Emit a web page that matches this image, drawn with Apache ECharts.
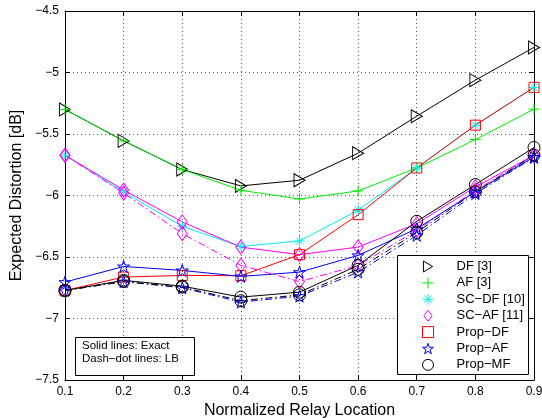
<!DOCTYPE html>
<html><head><meta charset="utf-8">
<script src="https://cdn.jsdelivr.net/npm/echarts@6/dist/echarts.min.js"></script>
<style>html,body{margin:0;padding:0;background:#fff}#c{width:542px;height:418px}</style>
</head><body><div id="c"></div>
<script>
const xs = [0.1, 0.2, 0.3, 0.4, 0.5, 0.6, 0.7, 0.8, 0.9];
const yTicks = [-7.5, -7, -6.5, -6, -5.5, -5, -4.5];
const df      = [-5.30, -5.556, -5.789, -5.922, -5.876, -5.656, -5.355, -5.062, -4.796];
const af      = [-5.30, -5.556, -5.789, -5.958, -6.028, -5.963, -5.776, -5.545, -5.298];
const scdf    = [-5.673, -5.971, -6.251, -6.414, -6.370, -6.120, -5.776, -5.428, -5.121];
const scaf    = [-5.673, -5.955, -6.215, -6.420, -6.481, -6.419, -6.229, -5.930, -5.673];
const scafLB  = [-5.673, -5.980, -6.310, -6.568, -6.700, -6.568, -6.283, -5.958, -5.673];
const propdf  = [-6.772, -6.663, -6.650, -6.652, -6.481, -6.156, -5.776, -5.428, -5.121];
const propaf  = [-6.704, -6.577, -6.609, -6.658, -6.623, -6.487, -6.270, -5.970, -5.686];
const propafLB= [-6.772, -6.700, -6.750, -6.867, -6.818, -6.623, -6.324, -5.985, -5.690];
const propmf  = [-6.772, -6.690, -6.737, -6.826, -6.786, -6.568, -6.210, -5.911, -5.610];
const propmfLB= [-6.772, -6.700, -6.745, -6.855, -6.808, -6.600, -6.300, -5.970, -5.672];
const names = ['DF [3]', 'AF [3]', 'SC\u2212DF [10]', 'SC\u2212AF [11]', 'Prop\u2212DF', 'Prop\u2212AF', 'Prop\u2212MF'];

const SYM = {
  tri: 'path://M0,0 L10,6 L0,12 Z',
  plus: 'path://M6,0 L6,12 M0,6 L12,6',
  ast: 'path://M6,0 L6,12 M0,6 L12,6 M1.8,1.8 L10.2,10.2 M1.8,10.2 L10.2,1.8',
  dia: 'path://M6,0 L12,8 L6,16 L0,8 Z',
  sq: 'path://M0,0 L10,0 L10,10 L0,10 Z',
  star: 'path://M50,0 L61.2,34.6 L97.6,34.5 L68.1,55.9 L79.4,90.5 L50,69 L20.6,90.5 L31.9,55.9 L2.4,34.5 L38.8,34.6 Z',
  circ: 'circle'
};
const DASHDOT = [7, 3, 1.5, 3];
const C = { k: '#000000', g: '#00ee00', c: '#00eeee', m: '#ff00ff', r: '#ff0000', b: '#0000ff' };
function mk(name, arr, color, sym, size, dashed) {
  return {
    type: 'line', name: name, data: xs.map((x, i) => [x, arr[i]]),
    symbol: SYM[sym], symbolSize: size, showSymbol: true,
    itemStyle: { color: 'rgba(0,0,0,0)', borderColor: color, borderWidth: 1 },
    lineStyle: { color: color, width: 1, type: dashed ? DASHDOT : 'solid' },
    emphasis: { disabled: true }, animation: false, z: 2
  };
}
const series = [
  mk('DF [3]', df, C.k, 'tri', [11, 13], false),
  mk('AF [3]', af, C.g, 'plus', 11, false),
  mk('SC\u2212DF [10]', scdf, C.c, 'ast', 10, false),
  mk('SC\u2212AF [11]', scaf, C.m, 'dia', [10, 14], false),
  mk('SC\u2212AF LB', scafLB, C.m, 'dia', [10, 14], true),
  mk('Prop\u2212DF', propdf, C.r, 'sq', 10, false),
  mk('Prop\u2212AF', propaf, C.b, 'star', 12, false),
  mk('Prop\u2212AF LB', propafLB, C.b, 'star', 12, true),
  mk('Prop\u2212MF', propmf, C.k, 'circ', 12, false),
  mk('Prop\u2212MF LB', propmfLB, C.k, 'circ', 12, true)
];
const legendCols = [C.k, C.g, C.c, C.m, C.r, C.b, C.k];
const legendSym = ['tri', 'plus', 'ast', 'dia', 'sq', 'star', 'circ'];

const FONT = 'Liberation Sans, Arial, Helvetica, sans-serif';
const fmtY = v => String(v).replace('-', '\u2212');
const chart = echarts.init(document.getElementById('c'), null, { renderer: 'canvas' });
chart.setOption({
  animation: false,
  backgroundColor: '#fff',
  grid: { left: 65, right: 8, top: 11, bottom: 38, containLabel: false, outerBoundsMode: 'none' },
  xAxis: [
    { type: 'value', min: 0.1, max: 0.9, interval: 0.1, position: 'bottom',
      name: 'Normalized Relay Location', nameLocation: 'middle', nameGap: 21,
      nameTextStyle: { fontFamily: FONT, fontSize: 16, color: '#000' },
      axisLine: { lineStyle: { color: '#000', width: 1 } },
      axisTick: { inside: true, length: 5, lineStyle: { color: '#000' } },
      axisLabel: { fontFamily: FONT, fontSize: 12, color: '#000', margin: 6, formatter: v => v.toFixed(1) },
      splitLine: { show: true, lineStyle: { color: '#555', type: [1, 3], width: 1 } } },
    { type: 'value', min: 0.1, max: 0.9, interval: 0.1, position: 'top',
      axisLine: { lineStyle: { color: '#000', width: 1 } },
      axisTick: { inside: true, length: 5, lineStyle: { color: '#000' } },
      axisLabel: { show: false }, splitLine: { show: false } }
  ],
  yAxis: [
    { type: 'value', min: -7.5, max: -4.5, interval: 0.5, position: 'left',
      name: 'Expected Distortion [dB]', nameLocation: 'middle', nameGap: 40, nameRotate: 90,
      nameTextStyle: { fontFamily: FONT, fontSize: 16, color: '#000' },
      axisLine: { show: true, lineStyle: { color: '#000', width: 1 } },
      axisTick: { show: true, inside: true, length: 5, lineStyle: { color: '#000' } },
      axisLabel: { fontFamily: FONT, fontSize: 12, color: '#000', margin: 6,
        formatter: v => yTicks.includes(v) ? fmtY(v) : '' },
      splitLine: { show: true, lineStyle: { color: '#555', type: [1, 3], width: 1 } } },
    { type: 'value', min: -7.5, max: -4.5, interval: 0.5, position: 'right',
      axisLine: { show: true, lineStyle: { color: '#000', width: 1 } },
      axisTick: { show: true, inside: true, length: 5, lineStyle: { color: '#000' } },
      axisLabel: { show: false }, splitLine: { show: false } }
  ],
  legend: {
    orient: 'vertical', left: 422, top: 260, itemWidth: 11, itemHeight: 11, itemGap: 3.4,
    z: 101, selectedMode: false, padding: 0, symbolKeepAspect: true,
    textStyle: { fontFamily: FONT, fontSize: 13, color: '#000', padding: [0, 0, 0, 18] },
    data: names.map((n, i) => ({ name: n, icon: SYM[legendSym[i]],
      itemStyle: { color: 'rgba(0,0,0,0)', borderColor: legendCols[i], borderWidth: 1 } }))
  },
  graphic: [
    { type: 'rect', z: 100, shape: { x: 397.5, y: 255.5, width: 131, height: 119 },
      style: { fill: '#fff', stroke: '#000', lineWidth: 1 } },
    { type: 'rect', z: 100, shape: { x: 75.5, y: 337.5, width: 119, height: 38 },
      style: { fill: '#fff', stroke: '#000', lineWidth: 1 } },
    { type: 'text', z: 101, left: 82, top: 340,
      style: { text: 'Solid lines: Exact\nDash\u2212dot lines: LB', font: '11.5px ' + FONT, fill: '#000', lineHeight: 12.5 } }
  ],
  series: series
});
</script></body></html>
